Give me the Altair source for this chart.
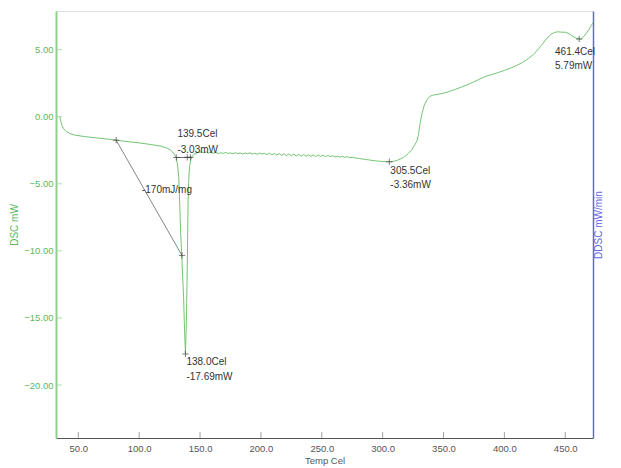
import altair as alt
import pandas as pd

# DSC curve
temp = [34.9, 35.5, 36.5, 38, 40, 43, 47, 55, 65, 75, 81.1, 90, 100, 110, 118, 123, 126, 128, 129.5, 130.5,
        131.5, 132.5, 133.3, 134.0, 134.8, 135.5, 136.5, 137.3, 138.0, 138.7, 139.3, 139.8, 140.2, 140.6,
        141.0, 141.6, 142.5, 143.5, 145,
        147, 149, 151, 153, 155, 157, 159, 161, 163, 165, 167, 169, 171, 173, 175, 177, 179, 181, 183, 185,
        187, 189, 191, 193, 195, 197, 199, 201, 203, 205, 207, 209, 211, 213, 215, 217, 219, 221, 223, 225,
        227, 229, 231, 233, 235, 237, 239, 241, 243, 245, 247, 249, 251, 253, 255, 257, 259, 261, 263, 265,
        267, 269, 271, 273, 275, 278, 281, 284, 287, 290, 293, 296, 299, 302, 305.5, 309, 312, 315, 318,
        321, 324, 326, 328, 329.5, 331, 332.5, 334, 335.5, 337, 338.5, 341, 344, 348, 352, 356, 360, 365,
        370, 375, 380, 385, 390, 395, 400, 405, 410, 415, 420, 424, 428, 432, 435, 438, 441, 444, 447, 450,
        453, 456, 459, 461.4, 463.5, 465.5, 467.5, 469.5, 471, 472.8]
dsc = [0.0, -0.3, -0.65, -0.9, -1.1, -1.25, -1.37, -1.48, -1.58, -1.68, -1.75, -1.85, -1.95, -2.08, -2.2,
       -2.35, -2.5, -2.7, -2.9, -3.05,
       -3.6, -4.5, -6.5, -8.5, -10.0, -11.5, -13.5, -16.0, -17.69, -15.5, -12.5, -9.0, -6.2, -5.0,
       -4.2, -3.6, -3.2, -2.95, -2.8,
       -2.72, -2.65, -2.62, -2.68, -2.63, -2.70, -2.66, -2.72, -2.67, -2.74, -2.69, -2.73, -2.66, -2.74,
       -2.70, -2.76, -2.68, -2.75, -2.70, -2.78, -2.71, -2.76, -2.69, -2.79, -2.72, -2.80, -2.71, -2.78,
       -2.73, -2.82, -2.72, -2.84, -2.74, -2.86, -2.75, -2.88, -2.76, -2.90, -2.78, -2.92, -2.78, -2.93,
       -2.80, -2.94, -2.82, -2.95, -2.83, -2.96, -2.84, -2.97, -2.86, -2.96, -2.87, -2.98, -2.89, -2.97,
       -2.91, -3.00, -2.93, -3.02, -2.95, -3.03, -2.98, -3.05, -3.02, -3.08, -3.12, -3.16, -3.20, -3.24,
       -3.28, -3.31, -3.33, -3.35, -3.36, -3.33, -3.25, -3.13, -2.98, -2.75, -2.45, -2.15, -1.85, -1.3,
       -0.35, 0.3, 0.8, 1.1, 1.35, 1.5, 1.6, 1.65, 1.72, 1.8, 1.92, 2.05, 2.22, 2.4, 2.6, 2.82, 3.02,
       3.15, 3.3, 3.45, 3.62, 3.82, 4.05, 4.35, 4.65, 5.05, 5.5, 5.85, 6.12, 6.28, 6.33, 6.3, 6.3, 6.2,
       6.0, 5.85, 5.79, 5.82, 6.0, 6.25, 6.5, 6.75, 7.0]

# analysis marks
mark_t = [81.1, 135.2, 138.0, 130.5, 139.5, 142.1, 305.5, 461.4]
mark_v = [-1.75, -10.35, -17.69, -3.04, -3.03, -3.03, -3.36, 5.79]

tangent_t = [81.1, 135.2]
tangent_v = [-1.75, -10.35]
base_t = [130.5, 143.0]
base_v = [-3.04, -3.03]

label_text = ["139.5Cel", "-3.03mW", "-170mJ/mg", "138.0Cel", "-17.69mW",
              "305.5Cel", "-3.36mW", "461.4Cel", "5.79mW"]
label_t = [131.4, 131.4, 102.3, 138.8, 138.8, 306.3, 306.3, 441.6, 441.6]
label_v = [-1.30, -2.49, -5.48, -18.31, -19.43, -4.04, -5.10, 4.86, 3.81]

x_ticks = [50, 100, 150, 200, 250, 300, 350, 400, 450]
y_ticks = [5, 0, -5, -10, -15, -20]

X_DOM = [31.67, 472.8]
Y_DOM = [-23.95, 7.88]

GREEN = "#5cb85c"
CURVE = "#74c474"
BLUE = "#6666dd"
GREY = "#555555"
FONT = "Liberation Sans, Arial, sans-serif"

W, H = 537, 427

curve_df = pd.DataFrame({"T": temp, "DSC": dsc})
marks_df = pd.DataFrame({"T": mark_t, "DSC": mark_v})
tan_df = pd.DataFrame({"T": tangent_t, "DSC": tangent_v})
base_df = pd.DataFrame({"T": base_t, "DSC": base_v})
lab_df = pd.DataFrame({"T": label_t, "DSC": label_v, "txt": label_text})
xt_df = pd.DataFrame({"T": x_ticks})
yt_df = pd.DataFrame({"DSC": y_ticks})

xs = alt.Scale(domain=X_DOM, nice=False, zero=False)
ys = alt.Scale(domain=Y_DOM, nice=False, zero=False)

curve = alt.Chart(curve_df).mark_line(color=CURVE, strokeWidth=1, clip=True).encode(
    x=alt.X("T:Q", scale=xs, title="Temp Cel",
            axis=alt.Axis(values=x_ticks, format=".1f", grid=False, ticks=False,
                          domainColor=GREY, labelColor=GREY, titleColor=GREY,
                          labelFont=FONT, titleFont=FONT, labelFontSize=9.5, titleFontSize=9.5,
                          titleFontWeight="normal", labelPadding=5, titlePadding=3)),
    y=alt.Y("DSC:Q", scale=ys, title="DSC mW",
            axis=alt.Axis(values=y_ticks, format=".2f", grid=False, ticks=False,
                          domainColor="#8fd08f", domainWidth=2, labelColor=GREEN, titleColor=GREEN,
                          labelFont=FONT, titleFont=FONT, labelFontSize=9.5, titleFontSize=10,
                          titleFontWeight="normal", labelPadding=3, titlePadding=4)),
    order="T:Q",
)

tangent = alt.Chart(tan_df).mark_line(color="#666666", strokeWidth=0.8).encode(
    x=alt.X("T:Q", scale=xs), y=alt.Y("DSC:Q", scale=ys, axis=None))
baseline = alt.Chart(base_df).mark_line(color="#444444", strokeWidth=0.8).encode(
    x=alt.X("T:Q", scale=xs), y=alt.Y("DSC:Q", scale=ys, axis=None))

crosses = alt.Chart(marks_df).mark_point(
    shape="M-1,0L1,0M0,-1L0,1", size=40, filled=False, color="#333333", strokeWidth=0.9
).encode(
    x=alt.X("T:Q", scale=xs),
    y=alt.Y("DSC:Q", scale=ys, title="DDSC mW/min",
            axis=alt.Axis(orient="right", labels=False, ticks=False, grid=False,
                          domainColor=BLUE, domainWidth=1.5, titleColor=BLUE, titleFont=FONT,
                          titleFontSize=10, titleFontWeight="normal", titlePadding=0,
                          titleAngle=270, titleBaseline="top")),
)

labels = alt.Chart(lab_df).mark_text(
    align="left", baseline="middle", font=FONT, fontSize=10, color="#333333"
).encode(x=alt.X("T:Q", scale=xs), y=alt.Y("DSC:Q", scale=ys, axis=None), text="txt:N")

xticks = alt.Chart(xt_df).mark_tick(color="#777777", thickness=1, size=6).encode(
    x=alt.X("T:Q", scale=xs), y=alt.value(H - 3))
yticks = alt.Chart(yt_df).mark_tick(color="#8fd08f", thickness=1, size=6).encode(
    y=alt.Y("DSC:Q", scale=ys, axis=None), x=alt.value(3))

chart = alt.layer(curve, tangent, baseline, crosses, labels, xticks, yticks).resolve_axis(
    y="independent"
).properties(
    width=W, height=H,
    autosize=alt.AutoSizeParams(type="none"),
    padding={"left": 48, "top": 3, "right": 20, "bottom": 29},
).configure_view(stroke="#c8c8c8", strokeWidth=2).configure(background="white")

chart.save("out.html", embed_options={"renderer": "svg", "actions": False})
